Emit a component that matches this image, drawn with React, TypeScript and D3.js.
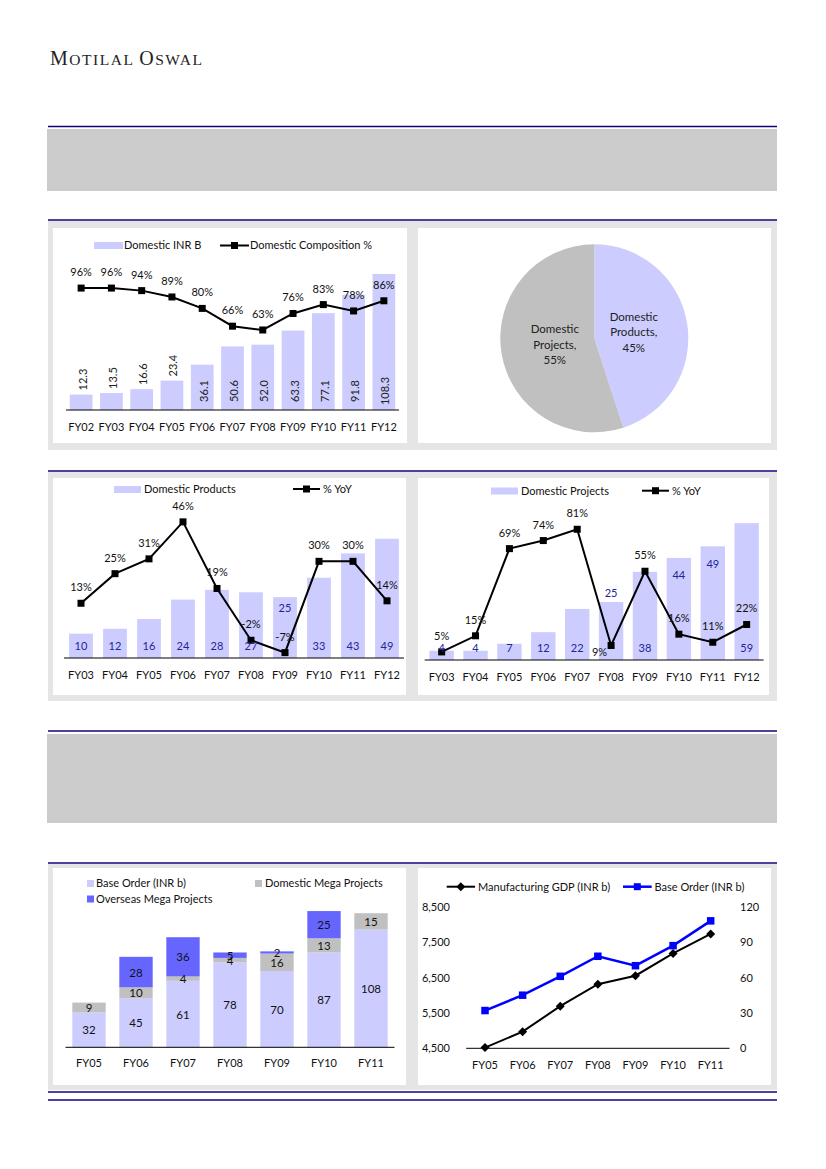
import React from "react";
import * as d3 from "d3";

// ---------- DATA ----------
const years1 = ["FY02", "FY03", "FY04", "FY05", "FY06", "FY07", "FY08", "FY09", "FY10", "FY11", "FY12"];
const domesticINR = [12.3, 13.5, 16.6, 23.4, 36.1, 50.6, 52.0, 63.3, 77.1, 91.8, 108.3];
const domesticComposition = [96, 96, 94, 89, 80, 66, 63, 76, 83, 78, 86];

const pieLabels = ["Domestic Products", "Domestic Projects"];
const pieValues = [45, 55];

const years2 = ["FY03", "FY04", "FY05", "FY06", "FY07", "FY08", "FY09", "FY10", "FY11", "FY12"];
const domesticProducts = [10, 12, 16, 24, 28, 27, 25, 33, 43, 49];
const productsYoY = [13, 25, 31, 46, 19, -2, -7, 30, 30, 14];
const domesticProjects = [4, 4, 7, 12, 22, 25, 38, 44, 49, 59];
const projectsYoY = [5, 15, 69, 74, 81, 9, 55, 16, 11, 22];

const productsLabelAtTop = ["FY09"];
const projectsLabelAtTop = ["FY10", "FY11"];
const projectsLabelAbove = ["FY08"];
const projectsYoYLabelLeft = ["FY08"];

const years3 = ["FY05", "FY06", "FY07", "FY08", "FY09", "FY10", "FY11"];
const baseOrder = [32, 45, 61, 78, 70, 87, 108];
const domesticMega = [9, 10, 4, 4, 16, 13, 15];
const overseasMega = [0, 28, 36, 5, 2, 25, 0];
const stackKeys = ["Base Order (INR b)", "Domestic Mega Projects", "Overseas Mega Projects"];

const manufacturingGDP = [4520, 4970, 5690, 6310, 6550, 7180, 7730];
const gdpTicks = [4500, 5500, 6500, 7500, 8500];
const orderTicks = [0, 30, 60, 90, 120];

// ---------- STYLE ----------
const FONT = "Lato, 'Open Sans', sans-serif";
const NAVY = "#14007a";
const LAV = "#ccccff";
const GREY = "#c0c0c0";
const OVS = "#6666ff";
const BLUE = "#0000ff";
const PANEL_BG = "#e5e5e5";
const LABEL_BLUE = "#24249a";
const TXT = "#111";
const FS = 11;

function Square({ cx, cy, s = 7, fill = "#000" }: any) {
  return <rect x={cx - s / 2} y={cy - s / 2} width={s} height={s} fill={fill} />;
}

function Header() {
  return (
    <text x={50} y={65} fontFamily="'Liberation Serif', 'DejaVu Serif', serif" fill="#222"
      textLength={152} lengthAdjust="spacing">
      <tspan fontSize={20}>M</tspan>
      <tspan fontSize={15.5}>OTILAL </tspan>
      <tspan fontSize={20}>O</tspan>
      <tspan fontSize={15.5}>SWAL</tspan>
    </text>
  );
}

function Layout() {
  return (
    <g>
      <line x1={48} x2={777} y1={126.5} y2={126.5} stroke={NAVY} strokeWidth={1.5} />
      <rect x={47} y={129} width={730} height={62} fill="#cccccc" />
      <line x1={48} x2={777} y1={220} y2={220} stroke={NAVY} strokeWidth={1.5} />
      <rect x={48} y={221} width={729} height={229} fill={PANEL_BG} />
      <rect x={53} y={228} width={354} height={215} fill="#fff" />
      <rect x={418} y={228} width={353} height={215} fill="#fff" />

      <line x1={48} x2={777} y1={471} y2={471} stroke={NAVY} strokeWidth={1.5} />
      <rect x={48} y={472} width={729} height={229} fill={PANEL_BG} />
      <rect x={53} y={478} width={353} height={217} fill="#fff" />
      <rect x={418} y={478} width={351} height={217} fill="#fff" />

      <line x1={48} x2={777} y1={731} y2={731} stroke={NAVY} strokeWidth={1.5} />
      <rect x={47} y={734} width={730} height={89} fill="#cccccc" />

      <line x1={48} x2={777} y1={863} y2={863} stroke={NAVY} strokeWidth={1.5} />
      <rect x={48} y={864} width={729} height={226} fill={PANEL_BG} />
      <rect x={53} y={868} width={353} height={217} fill="#fff" />
      <rect x={418} y={868} width={353} height={217} fill="#fff" />

      <line x1={48} x2={777} y1={1092} y2={1092} stroke={NAVY} strokeWidth={1.5} />
      <line x1={48} x2={777} y1={1100} y2={1100} stroke={NAVY} strokeWidth={1.5} />
    </g>
  );
}

function Chart1() {
  const axisY = 410;
  const x = d3.scaleBand().domain(years1).range([66, 399]).paddingInner(0.25).paddingOuter(0.125);
  const y = d3.scaleLinear().domain([0, 120]).range([axisY, 259.3]);
  const yp = d3.scaleLinear().domain([0, 100]).range([axisY, 283]);
  const cx = (i: number) => (x(years1[i]) as number) + x.bandwidth() / 2;
  const line = d3.line<number>().x((_, i) => cx(i)).y((d) => yp(d));
  return (
    <g fontFamily={FONT} fontSize={FS}>
      {/* legend */}
      <rect x={94} y={242} width={29} height={7} fill={LAV} />
      <text x={124} y={249} fill={TXT}>Domestic INR B</text>
      <line x1={220} x2={249} y1={245.5} y2={245.5} stroke="#000" strokeWidth={2} />
      <Square cx={234.5} cy={245.5} />
      <text x={250} y={249} fill={TXT}>Domestic Composition %</text>

      {domesticINR.map((v, i) => (
        <rect key={i} x={x(years1[i])} y={y(v)} width={x.bandwidth()} height={axisY - y(v)} fill={LAV} />
      ))}
      {domesticINR.map((v, i) => {
        const h = axisY - y(v);
        const cy = h > 38 ? axisY - 19 : y(v) - 15;
        return (
          <text key={i} transform={`translate(${cx(i) + 1},${cy}) rotate(-90)`} textAnchor="middle"
            dominantBaseline="central" fill="#222">{v.toFixed(1)}</text>
        );
      })}
      <line x1={66} x2={399} y1={axisY} y2={axisY} stroke="#000" strokeWidth={1} />
      {years1.map((c, i) => (
        <text key={c} x={cx(i)} y={431} textAnchor="middle" fill={TXT}>{c}</text>
      ))}
      <path d={line(domesticComposition) || ""} fill="none" stroke="#000" strokeWidth={2} />
      {domesticComposition.map((v, i) => <Square key={i} cx={cx(i)} cy={yp(v)} />)}
      {domesticComposition.map((v, i) => (
        <text key={i} x={cx(i)} y={yp(v) - 12} textAnchor="middle" fill={TXT}>{v}%</text>
      ))}
    </g>
  );
}

function PieChart() {
  const cx = 594.3, cy = 338.3, r = 94;
  const arcs = d3.pie<number>().sort(null).startAngle(0)(pieValues);
  const arc = d3.arc<d3.PieArcDatum<number>>().innerRadius(0).outerRadius(r);
  const labelArc = d3.arc<d3.PieArcDatum<number>>().innerRadius(40).outerRadius(40);
  const colors = [LAV, GREY];
  return (
    <g transform={`translate(${cx},${cy})`} fontFamily={FONT} fontSize={FS + 0.5}>
      {arcs.map((a, i) => <path key={i} d={arc(a) || ""} fill={colors[i]} />)}
      {arcs.map((a, i) => {
        const [lx, ly] = labelArc.centroid(a);
        const words = pieLabels[i].split(" ");
        const lines = [words[0], words[1] + ",", pieValues[i] + "%"];
        return (
          <text key={i} x={lx} y={ly} textAnchor="middle" fill="#222">
            {lines.map((t, k) => (
              <tspan key={k} x={lx} y={ly + (k - 1) * 15.5 + 4}>{t}</tspan>
            ))}
          </text>
        );
      })}
    </g>
  );
}

function BarYoYChart({ cats, bars, yoy, x0, x1, axisY, yMax, yTop, pDomain, pTop, pBottom, pad,
  legendName, legend, atTop, above, leftLabel, topOffset }: any) {
  const x = d3.scaleBand().domain(cats).range([x0, x1]).paddingInner(pad).paddingOuter(pad / 2);
  const y = d3.scaleLinear().domain([0, yMax]).range([axisY, yTop]);
  const yp = d3.scaleLinear().domain(pDomain).range([pBottom, pTop]);
  const cx = (i: number) => (x(cats[i]) as number) + x.bandwidth() / 2;
  const line = d3.line<number>().x((_, i) => cx(i)).y((d) => yp(d));
  return (
    <g fontFamily={FONT} fontSize={FS}>
      <rect x={legend.rx} y={legend.ry} width={27} height={7} fill={LAV} />
      <text x={legend.rx + 30} y={legend.ry + 7} fill={TXT}>{legendName}</text>
      <line x1={legend.lx} x2={legend.lx + 27} y1={legend.ly} y2={legend.ly} stroke="#000" strokeWidth={2} />
      <Square cx={legend.lx + 13.5} cy={legend.ly} />
      <text x={legend.lx + 30} y={legend.ly + 4} fill={TXT}>% YoY</text>

      {bars.map((v: number, i: number) => (
        <rect key={i} x={x(cats[i])} y={y(v)} width={x.bandwidth()} height={axisY - y(v)} fill={LAV} />
      ))}
      <line x1={x0} x2={x1} y1={axisY} y2={axisY} stroke="#000" strokeWidth={1} />
      {cats.map((c: string, i: number) => (
        <text key={c} x={cx(i)} y={axisY + 21} textAnchor="middle" fill={TXT}>{c}</text>
      ))}
      <path d={line(yoy) || ""} fill="none" stroke="#000" strokeWidth={2} />
      {yoy.map((v: number, i: number) => <Square key={i} cx={cx(i)} cy={yp(v)} />)}
      {bars.map((v: number, i: number) => {
        let ly = axisY - 13;
        if (atTop.includes(cats[i])) ly = y(v) + topOffset;
        if (above.includes(cats[i])) ly = y(v) - 10;
        return (
          <text key={i} x={cx(i)} y={ly} textAnchor="middle" dominantBaseline="central" fill={LABEL_BLUE}>{v}</text>
        );
      })}
      {yoy.map((v: number, i: number) => {
        if (leftLabel.includes(cats[i])) {
          return <text key={i} x={cx(i) - 4} y={yp(v) + 11} textAnchor="end" fill={TXT}>{v}%</text>;
        }
        return <text key={i} x={cx(i)} y={yp(v) - 12} textAnchor="middle" fill={TXT}>{v}%</text>;
      })}
    </g>
  );
}

function StackChart() {
  const axisY = 1047.3;
  const x = d3.scaleBand().domain(years3).range([65.5, 394.5]).paddingInner(0.29).paddingOuter(0.145);
  const y = d3.scaleLinear().domain([0, 140]).range([axisY, 894.7]);
  const rows = years3.map((c, i) => ({ cat: c, [stackKeys[0]]: baseOrder[i], [stackKeys[1]]: domesticMega[i], [stackKeys[2]]: overseasMega[i] }));
  const series = d3.stack<any>().keys(stackKeys)(rows);
  const colors = [LAV, GREY, OVS];
  return (
    <g fontFamily={FONT} fontSize={FS}>
      <rect x={87} y={880} width={7} height={7} fill={LAV} />
      <text x={96} y={887} fill={TXT}>{stackKeys[0]}</text>
      <rect x={255} y={880} width={7} height={7} fill={GREY} />
      <text x={265} y={887} fill={TXT}>{stackKeys[1]}</text>
      <rect x={87} y={895.5} width={7} height={7} fill={OVS} />
      <text x={96} y={903} fill={TXT}>{stackKeys[2]}</text>

      {series.map((s, k) => s.map((d, i) => (
        d[1] - d[0] > 0 ? (
          <rect key={`${k}-${i}`} x={x(years3[i])} y={y(d[1])} width={x.bandwidth()} height={y(d[0]) - y(d[1])} fill={colors[k]} />
        ) : null
      )))}
      {series.map((s, k) => s.map((d, i) => (
        d[1] - d[0] > 0 ? (
          <text key={`t${k}-${i}`} x={(x(years3[i]) as number) + x.bandwidth() / 2} y={(y(d[0]) + y(d[1])) / 2}
            textAnchor="middle" dominantBaseline="central" fill="#111" fontSize={FS + 0.5}>{d[1] - d[0]}</text>
        ) : null
      )))}
      <line x1={65.5} x2={394.5} y1={axisY} y2={axisY} stroke="#000" strokeWidth={1} />
      {years3.map((c) => (
        <text key={c} x={(x(c) as number) + x.bandwidth() / 2} y={1067} textAnchor="middle" fill={TXT}>{c}</text>
      ))}
    </g>
  );
}

function DualLineChart() {
  const axisY = 1048.3;
  const x = d3.scaleBand().domain(years3).range([466.2, 729.5]);
  const cx = (c: string) => (x(c) as number) + x.bandwidth() / 2;
  const yL = d3.scaleLinear().domain([4500, 8500]).range([axisY, 906.7]);
  const yR = d3.scaleLinear().domain([0, 120]).range([axisY, 906.7]);
  const gdpLine = d3.line<number>().x((_, i) => cx(years3[i])).y((d) => yL(d));
  const orderLine = d3.line<number>().x((_, i) => cx(years3[i])).y((d) => yR(d));
  const fmt = d3.format(",");
  const diamond = (px: number, py: number, s = 4.5) => `M${px},${py - s}L${px + s},${py}L${px},${py + s}L${px - s},${py}Z`;
  return (
    <g fontFamily={FONT} fontSize={FS}>
      <line x1={446.7} x2={475} y1={886.7} y2={886.7} stroke="#000" strokeWidth={2} />
      <path d={diamond(460.8, 886.7)} fill="#000" />
      <text x={478} y={890.7} fill={TXT}>Manufacturing GDP (INR b)</text>
      <line x1={623} x2={651.7} y1={886.7} y2={886.7} stroke={BLUE} strokeWidth={2.5} />
      <Square cx={637.3} cy={886.7} fill={BLUE} />
      <text x={654.5} y={890.7} fill={TXT}>Base Order (INR b)</text>

      {gdpTicks.map((t) => (
        <text key={t} x={450} y={yL(t) + 4} textAnchor="end" fill={TXT}>{fmt(t)}</text>
      ))}
      {orderTicks.map((t) => (
        <text key={t} x={740} y={yR(t) + 4} textAnchor="start" fill={TXT}>{t}</text>
      ))}
      <line x1={466.2} x2={729.5} y1={axisY} y2={axisY} stroke="#000" strokeWidth={1} />
      {years3.map((c) => (
        <text key={c} x={cx(c)} y={1069} textAnchor="middle" fill={TXT}>{c}</text>
      ))}
      <path d={orderLine(baseOrder) || ""} fill="none" stroke={BLUE} strokeWidth={2.5} />
      {baseOrder.map((v, i) => <Square key={i} cx={cx(years3[i])} cy={yR(v)} s={7.5} fill={BLUE} />)}
      <path d={gdpLine(manufacturingGDP) || ""} fill="none" stroke="#000" strokeWidth={2} />
      {manufacturingGDP.map((v, i) => <path key={i} d={diamond(cx(years3[i]), yL(v))} fill="#000" />)}
    </g>
  );
}

export default function App() {
  return (
    <div style={{ position: "absolute", left: 0, top: 0 }}>
      <svg width={826} height={1169} style={{ display: "block", background: "#fff" }}>
        <Header />
        <Layout />
        <Chart1 />
        <PieChart />
        <BarYoYChart cats={years2} bars={domesticProducts} yoy={productsYoY}
          x0={64} x1={404} axisY={658} yMax={60} yTop={512} pDomain={[-10, 50]} pTop={512} pBottom={660}
          pad={0.3} legendName="Domestic Products"
          legend={{ rx: 114, ry: 486, lx: 293, ly: 489 }}
          atTop={productsLabelAtTop} above={[]} leftLabel={[]} topOffset={10} />
        <BarYoYChart cats={years2} bars={domesticProjects} yoy={projectsYoY}
          x0={424.7} x1={763.6} axisY={660} yMax={70} yTop={497.6} pDomain={[0, 100]} pTop={498.6} pBottom={660}
          pad={0.28} legendName="Domestic Projects"
          legend={{ rx: 491, ry: 487.5, lx: 642, ly: 490.7 }}
          atTop={projectsLabelAtTop} above={projectsLabelAbove} leftLabel={projectsYoYLabelLeft} topOffset={17} />
        <StackChart />
        <DualLineChart />
      </svg>
    </div>
  );
}
